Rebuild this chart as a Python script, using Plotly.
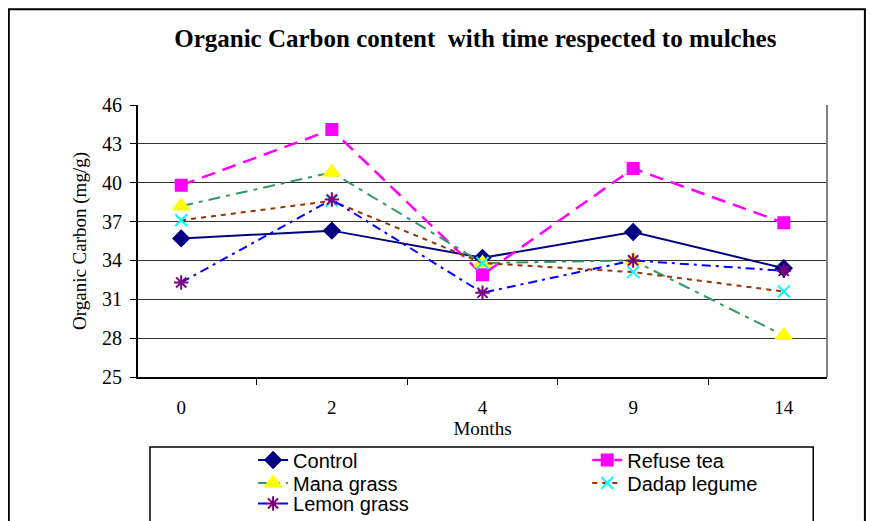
import plotly.graph_objects as go

months = ["0", "2", "4", "9", "14"]

control = [35.7, 36.3, 34.2, 36.2, 33.4]
refuse_tea = [39.8, 44.1, 32.9, 41.1, 36.9]
mana_grass = [38.2, 40.8, 33.8, 34.0, 28.2]
dadap_legume = [37.1, 38.6, 33.8, 33.1, 31.6]
lemon_grass = [32.3, 38.7, 31.5, 34.0, 33.2]

y_ticks = [25, 28, 31, 34, 37, 40, 43, 46]

# name, values, line colour, width, dash, marker, marker colour, size
series = [
    ("Control", control, "#000080", 2, "solid", "diamond", "#000080", 12),
    ("Refuse tea", refuse_tea, "#FF00FF", 2.5, "14px,8px", "square", "#FF00FF", 11),
    ("Mana grass", mana_grass, "#339966", 2, "12px,6px,4px,6px", "triangle-up", "#FFFF00", 14),
    ("Dadap legume", dadap_legume, "#993300", 2, "5px,5px", "x-thin", "#00FFFF", 12),
    ("Lemon grass", lemon_grass, "#0000FF", 2, "9px,5px,3px,5px", "asterisk", "#800080", 12),
]

# one legend per entry so the two-column Excel layout can be placed exactly
legend_pos = {
    "Control": ("legend", 0.167, -0.305),
    "Refuse tea": ("legend2", 0.652, -0.305),
    "Mana grass": ("legend3", 0.167, -0.390),
    "Dadap legume": ("legend4", 0.652, -0.390),
    "Lemon grass": ("legend5", 0.167, -0.465),
}

fig = go.Figure()
for name, vals, col, lw, dash, sym, mcol, size in series:
    fig.add_trace(go.Scatter(
        x=months, y=vals, name=name, mode="lines+markers",
        legend=legend_pos[name][0],
        line=dict(color=col, width=lw, dash=dash),
        marker=dict(symbol=sym, color=mcol, size=size,
                    line=dict(color=mcol, width=2)),
    ))

serif = "Liberation Serif, Times New Roman, serif"
sans = "Liberation Sans, Arial, sans-serif"

legends = {}
for name, (key, lx, ly) in legend_pos.items():
    legends[key] = dict(x=lx, xanchor="left", y=ly, yanchor="middle",
                        font=dict(family=sans, size=20, color="black"),
                        bgcolor="rgba(0,0,0,0)", borderwidth=0)

fig.update_layout(
    width=867, height=513,
    margin=dict(l=130, r=48, t=97, b=144, autoexpand=False),
    paper_bgcolor="white", plot_bgcolor="white",
    title=dict(text="<b>Organic Carbon content  with time respected to mulches</b>",
               x=0.539, xanchor="center", y=0.942, yanchor="middle",
               font=dict(family=serif, size=25, color="black")),
    xaxis=dict(type="category", categoryorder="array", categoryarray=months,
               tickson="boundaries", ticks="outside", ticklen=6, tickcolor="black",
               ticklabelstandoff=12,
               showline=True, linecolor="black", linewidth=2, mirror=False,
               showgrid=False,
               tickfont=dict(family=serif, size=19, color="black"),
               title=dict(text="Months", standoff=2,
                          font=dict(family=serif, size=19, color="black"))),
    yaxis=dict(range=[25, 46], tickvals=y_ticks, ticks="outside", ticklen=6,
               tickcolor="black", showline=True, linecolor="black", linewidth=2,
               ticklabelstandoff=4,
               showgrid=True, gridcolor="#333333", gridwidth=1, zeroline=False,
               tickfont=dict(family=serif, size=20, color="black"),
               title=dict(text="Organic Carbon (mg/g)", standoff=10,
                          font=dict(family=serif, size=19, color="black"))),
    showlegend=True,
    **legends,
)

# right side of plot frame
fig.add_shape(type="line", xref="paper", yref="paper", x0=1, x1=1, y0=0, y1=1,
              line=dict(color="#808080", width=2))
# outer chart border
fig.add_shape(type="rect", xref="paper", yref="paper",
              x0=-0.1875, x1=1.055, y0=-0.7, y1=1.352,
              line=dict(color="black", width=2), layer="below")
# legend box
fig.add_shape(type="rect", xref="paper", yref="paper",
              x0=0.0174, x1=0.98, y0=-0.65, y1=-0.2574,
              line=dict(color="black", width=1.5), layer="below")

fig.write_html("out.html")
